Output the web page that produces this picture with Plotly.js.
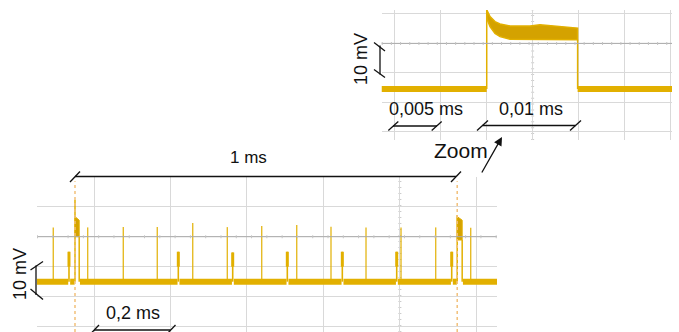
<!DOCTYPE html>
<html><head><meta charset="utf-8">
<script src="https://cdn.plot.ly/plotly-3.0.1.min.js"></script>
<style>html,body{margin:0;padding:0;background:#fff}#chart{width:679px;height:332px}</style>
</head><body><div id="chart"></div>
<script>
// ===== Overview trace (bottom): time in ms, level in mV above baseline =====
const overviewSpan = [-0.1, 1.105];
const tallSpikeT  = [-0.0568, 0.0332, 0.1264, 0.2153, 0.3080, 0.3985, 0.4885, 0.5801, 0.6698, 0.7614, 0.8530, 0.9437, 1.0353];
const tallSpikeMV = [18.1, 18.1, 18.2, 18.2, 19.6, 18.2, 18.6, 18.9, 18.3, 18.1, 18.1, 18.1, 18.0];
const shortPulseT  = [-0.0157, 0.2703, 0.4126, 0.5555, 0.6994, 0.8417, 0.9856];
const shortPulseMV = [10.0, 10.0, 9.7, 10.0, 10.0, 10.0, 10.0];
const shortPulseBandMV = [5.0, 5.0, 5.0, 5.0, 5.0, 5.0, 5.0];
const triggerT = [0, 1];
const triggerWidth = [0.011, 0.013];
const triggerPeakMV = [27.2, 22.2];
const triggerBandHiMV = [21.7, 21.7];
const triggerBandLoMV = [15.0, 13.9];

// ===== Zoomed trace (top): time in ms, level in mV =====
const zoomSpan = [-0.0115, 0.0202];
const pulseStart = 0;
const pulseEnd = 0.0099;
const envT     = [0, 0.00036, 0.0009, 0.00145, 0.00254, 0.00363, 0.00472, 0.0058, 0.0080, 0.0099];
const envHiMV  = [26.9, 24.6, 22.9, 22.1, 21.4, 21.4, 21.4, 21.8, 21.3, 20.7];
const envLoMV  = [24.0, 21.2, 18.9, 17.8, 16.9, 16.7, 16.7, 16.7, 16.7, 16.7];

// ===== Labels =====
const labelOverviewTime = '1 ms';
const labelOverviewDiv = '0,2 ms';
const labelZoomDiv = '0,005 ms';
const labelZoomPulse = '0,01 ms';
const labelVolt = '10 mV';
const labelZoom = 'Zoom';

const GOLD = '#E2B000', GOLD_D = '#D4A200';
const W = 679, H = 332;
const px = x => x / W, py = y => 1 - y / H;

const traces = [];
// --- bottom baseline with breaks where pulses occur
const gaps = [];
shortPulseT.forEach(t => gaps.push([t - 0.002, t + 0.003]));
triggerT.forEach((t, i) => gaps.push([t - 0.001, t + triggerWidth[i] + 0.002]));
gaps.sort((a, b) => a[0] - b[0]);
const bx = [], by = [];
let cur = overviewSpan[0];
gaps.forEach(g => { bx.push(cur, g[0], null); by.push(0, 0, null); cur = g[1]; });
bx.push(cur, overviewSpan[1]); by.push(0, 0);
traces.push({x: bx, y: by, xaxis: 'x', yaxis: 'y', mode: 'lines', line: {color: GOLD, width: 6}, hoverinfo: 'skip'});

// tall thin spikes
const tx = [], ty = [];
tallSpikeT.forEach((t, i) => { tx.push(t, t, null); ty.push(0, tallSpikeMV[i], null); });
traces.push({x: tx, y: ty, xaxis: 'x', yaxis: 'y', mode: 'lines', line: {color: GOLD, width: 1.4}, opacity: 0.85, hoverinfo: 'skip'});

// short pulses
const sx = [], sy = [], sx2 = [], sy2 = [];
shortPulseT.forEach((t, i) => {
  sx.push(t, t, null); sy.push(0, shortPulseMV[i], null);
  sx2.push(t, t, null); sy2.push(shortPulseBandMV[i], shortPulseMV[i], null);
});
traces.push({x: sx, y: sy, xaxis: 'x', yaxis: 'y', mode: 'lines', line: {color: GOLD, width: 1.6}, hoverinfo: 'skip'});
traces.push({x: sx2, y: sy2, xaxis: 'x', yaxis: 'y', mode: 'lines', line: {color: GOLD, width: 3}, hoverinfo: 'skip'});

// trigger pulses
triggerT.forEach((t, i) => {
  const e = t + triggerWidth[i];
  traces.push({x: [t, t, null, e, e], y: [0, triggerPeakMV[i], null, triggerBandLoMV[i], 0],
    xaxis: 'x', yaxis: 'y', mode: 'lines', line: {color: GOLD, width: 1.5}, hoverinfo: 'skip'});
  traces.push({x: [t, e, e, t, t], y: [triggerBandHiMV[i], triggerBandHiMV[i] - 1.2, triggerBandLoMV[i], triggerBandLoMV[i], triggerBandHiMV[i]],
    xaxis: 'x', yaxis: 'y', mode: 'lines', fill: 'toself', fillcolor: GOLD_D, line: {color: GOLD, width: 1}, hoverinfo: 'skip'});
});

// --- top: baseline
traces.push({x: [zoomSpan[0], pulseStart, null, pulseEnd, zoomSpan[1]], y: [0, 0, null, 0, 0],
  xaxis: 'x2', yaxis: 'y2', mode: 'lines', line: {color: GOLD, width: 6}, hoverinfo: 'skip'});
// pulse band
traces.push({x: envT.concat(envT.slice().reverse(), [envT[0]]), y: envHiMV.concat(envLoMV.slice().reverse(), [envHiMV[0]]),
  xaxis: 'x2', yaxis: 'y2', mode: 'lines', fill: 'toself', fillcolor: GOLD_D, line: {color: GOLD, width: 1.5}, hoverinfo: 'skip'});
// pulse edges
traces.push({x: [pulseStart, pulseStart, null, pulseEnd, pulseEnd], y: [0, envHiMV[0], null, envLoMV[envLoMV.length - 1], 0],
  xaxis: 'x2', yaxis: 'y2', mode: 'lines', line: {color: GOLD, width: 1.5}, hoverinfo: 'skip'});

const gridAx = {showgrid: true, gridcolor: '#d9d9d9', gridwidth: 1, zeroline: false, showticklabels: false,
  ticks: '', showline: false, fixedrange: true};

const K = '#111';
const seg = (x0, y0, x1, y1) => ({type: 'line', xref: 'paper', yref: 'paper', x0: px(x0), y0: py(y0), x1: px(x1), y1: py(y1),
  line: {color: K, width: 1.3}, layer: 'above'});

const shapes = [
  // center lines
  {type: 'line', xref: 'x domain', yref: 'y', x0: 0, x1: 1, y0: 15, y1: 15, line: {color: '#aaaaaa', width: 1}, layer: 'above'},
  {type: 'line', xref: 'x domain', yref: 'y', x0: 0, x1: 1, y0: 15, y1: 15, line: {color: '#c4c4c4', width: 3, dash: '1px,14.29px'}, layer: 'above'},
  {type: 'line', xref: 'x', yref: 'y domain', x0: 0.85, x1: 0.85, y0: 0, y1: 1, line: {color: '#cccccc', width: 3, dash: '1px,5px'}, layer: 'below'},
  {type: 'line', xref: 'x2 domain', yref: 'y2', x0: 0, x1: 1, y0: 15.5, y1: 15.5, line: {color: '#aaaaaa', width: 1}, layer: 'above'},
  {type: 'line', xref: 'x2 domain', yref: 'y2', x0: 0, x1: 1, y0: 15.5, y1: 15.5, line: {color: '#c4c4c4', width: 3, dash: '1px,8.18px'}, layer: 'above'},
  {type: 'line', xref: 'x2', yref: 'y2 domain', x0: 0.005, x1: 0.005, y0: 0, y1: 1, line: {color: '#cccccc', width: 3, dash: '1px,4.9px'}, layer: 'below'},
  // trigger markers
  {type: 'line', xref: 'x', yref: 'y domain', x0: triggerT[0], x1: triggerT[0], y0: 0, y1: 0.97, line: {color: '#F2C07A', width: 1.5, dash: '3px,3px'}, layer: 'above'},
  {type: 'line', xref: 'x', yref: 'y domain', x0: triggerT[1], x1: triggerT[1], y0: 0, y1: 0.97, line: {color: '#F2C07A', width: 1.5, dash: '3px,3px'}, layer: 'above'},
  // 1 ms bracket
  seg(75, 176.5, 456, 176.5), seg(70, 182, 80, 171.5), seg(451, 182, 461, 171.5),
  // 0,2 ms bracket
  seg(94, 330, 170.5, 330), seg(89, 335.5, 99, 325), seg(165.5, 335.5, 175.5, 325),
  // 0,005 ms bracket
  seg(393, 126, 437, 126), seg(388.3, 130.5, 398.3, 121.5), seg(431.7, 130.5, 441.7, 121.5),
  // 0,01 ms bracket
  seg(482.5, 125.5, 575.4, 125.5), seg(477, 130.5, 488, 120.5), seg(570, 130.5, 581, 120.5),
  // top 10 mV bracket
  seg(380, 45.5, 380, 74.5), seg(374, 42.5, 385, 51), seg(374, 69.5, 385, 77.5),
  // bottom 10 mV bracket
  seg(36, 265.5, 36, 295), seg(30.5, 270, 43, 261.5), seg(30.5, 289, 43, 299.5),
];

const F = 'Liberation Sans, Arial, sans-serif';
const txt = (text, x, y, size, angle) => ({text: text, xref: 'paper', yref: 'paper', x: px(x), y: py(y),
  xanchor: 'center', yanchor: 'middle', showarrow: false, textangle: angle || 0, font: {family: F, size: size, color: K}});

const annotations = [
  txt(labelOverviewTime, 248, 158, 17),
  txt(labelOverviewDiv, 133, 312.5, 18),
  txt(labelZoomDiv, 425.5, 109, 18),
  txt(labelZoomPulse, 530.5, 109, 18),
  txt(labelVolt, 361, 59, 18, -90),
  txt(labelVolt, 20, 274, 18, -90),
  txt(labelZoom, 460.5, 150, 21),
  {text: '', xref: 'paper', yref: 'paper', x: px(502), y: py(137), ax: -21, ay: 37, showarrow: true,
   arrowhead: 2, arrowsize: 1.3, arrowwidth: 1.3, arrowcolor: K, standoff: 0, startstandoff: 0},
];

const layout = {
  width: W, height: H, margin: {l: 0, r: 0, t: 0, b: 0}, paper_bgcolor: '#fff', plot_bgcolor: '#fff', showlegend: false,
  xaxis: Object.assign({}, gridAx, {domain: [px(37), px(497)], range: [-0.0994, 1.1041], tick0: 0.05, dtick: 0.2, anchor: 'y'}),
  yaxis: Object.assign({}, gridAx, {domain: [0, py(176.5)], range: [-16.77, 35.07], tick0: 5, dtick: 10, anchor: 'x'}),
  xaxis2: Object.assign({}, gridAx, {domain: [px(381.7), px(672)], range: [-0.01144, 0.02018], tick0: 0, dtick: 0.005, anchor: 'y2'}),
  yaxis2: Object.assign({}, gridAx, {domain: [py(140), py(10)], range: [-17.33, 26.84], tick0: 5.5, dtick: 10, anchor: 'x2'}),
  shapes: shapes,
  annotations: annotations,
};

Plotly.newPlot('chart', traces, layout, {displayModeBar: false, staticPlot: true});
</script></body></html>
